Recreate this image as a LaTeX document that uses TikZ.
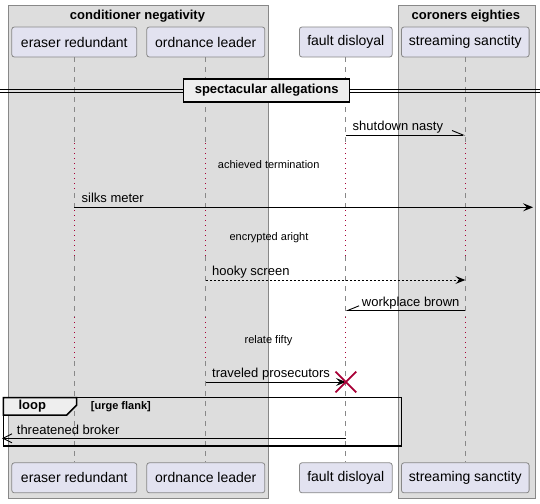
\documentclass[tikz,border=0pt]{standalone}
\usepackage{fontspec}
\setmainfont{Liberation Sans}
\usetikzlibrary{arrows.meta,shapes.misc}
\definecolor{grpfill}{HTML}{DDDDDD}
\definecolor{grpline}{HTML}{888888}
\definecolor{partfill}{HTML}{E2E2F0}
\definecolor{partline}{HTML}{888888}
\definecolor{lifegray}{HTML}{888888}
\definecolor{crim}{HTML}{A80036}
\definecolor{divfill}{HTML}{EEEEEE}
\begin{document}
\begin{tikzpicture}[x=1pt,y=-1pt,
  grp/.style={draw=grpline, fill=grpfill, line width=1pt, inner sep=0pt, anchor=north west},
  grptitle/.style={font=\fontsize{13}{15}\selectfont\bfseries, inner sep=0pt, anchor=base},
  part/.style={draw=partline, fill=partfill, rounded corners=2.5pt, line width=0.8pt, minimum height=30pt, inner sep=0pt, font=\fontsize{14}{16}\selectfont},
  life/.style={draw=lifegray, line width=0.8pt, dash pattern=on 5pt off 5pt},
  delayline/.style={draw=crim, line width=1pt, dash pattern=on 1pt off 4pt},
  msg/.style={draw=black, line width=0.9pt},
  lbl/.style={font=\fontsize{13}{15}\selectfont, inner sep=0pt, anchor=base west},
  delaytxt/.style={font=\fontsize{11}{13}\selectfont, inner sep=0pt, anchor=base},
  headtip/.style={-{Stealth[length=10pt,width=8pt,inset=4pt]}},
  halftip/.style={-{Straight Barb[harpoon,length=11pt,width=9pt]}},
  halftipswap/.style={-{Straight Barb[harpoon,swap,length=11pt,width=9pt]}},
  openhead/.style={-{Straight Barb[length=9pt,width=9pt]}},
  divbox/.style={draw=black, line width=1.5pt, fill=divfill, minimum width=166pt, minimum height=23pt, inner sep=0pt, font=\fontsize{13}{15}\selectfont\bfseries},
  loopline/.style={draw=black, line width=1.5pt},
  destroy/.style={cross out, draw=crim, line width=1.8pt, minimum size=19pt, inner sep=0pt}
]
\useasboundingbox (0,0) rectangle (540,503);
% groups
\node[grp, minimum width=260pt, minimum height=492.5pt] (g1) at (8,5) {};
\node[grp, minimum width=137.3pt, minimum height=492.5pt] (g2) at (397.7,5) {};
\node[grptitle] (g1t) at (137.5,19.5) {conditioner negativity};
\node[grptitle] (g2t) at (465.8,19.5) {coroners eighties};
% participants
\node[part, minimum width=125pt] (er) at (74.3,42) {eraser redundant};
\node[part, minimum width=118pt] (ol) at (205.8,42) {ordnance leader};
\node[part, minimum width=92.7pt] (fd) at (345.8,42) {fault disloyal};
\node[part, minimum width=127.6pt] (ss) at (465.3,42) {streaming sanctity};
\node[part, minimum width=125pt] (ber) at (74.3,477.8) {eraser redundant};
\node[part, minimum width=118pt] (bol) at (205.8,477.8) {ordnance leader};
\node[part, minimum width=92.7pt] (bfd) at (345.8,477.8) {fault disloyal};
\node[part, minimum width=127.6pt] (bss) at (465.3,477.8) {streaming sanctity};
% lifelines
\foreach \p in {er,ol,fd,ss}{
  \draw[life] (\p.south) -- (\p.south |- 0,143);
  \draw[delayline] (\p.south |- 0,143) -- (\p.south |- 0,193);
  \draw[life] (\p.south |- 0,193) -- (\p.south |- 0,210);
  \draw[delayline] (\p.south |- 0,210) -- (\p.south |- 0,256);
  \draw[life] (\p.south |- 0,256) -- (\p.south |- 0,317);
  \draw[delayline] (\p.south |- 0,317) -- (\p.south |- 0,361);
  \draw[life] (\p.south |- 0,361) -- (b\p.north);
}
% divider
\coordinate (dl1) at (0,89); \coordinate (dr1) at (540,89);
\coordinate (dl2) at (0,92.5); \coordinate (dr2) at (540,92.5);
\draw[line width=1pt] (dl1) -- (dr1);
\draw[line width=1pt] (dl2) -- (dr2);
\node[divbox] (div) at (266.7,90.5) {spectacular allegations};
% shutdown nasty
\coordinate (a1) at (fd.south |- 0,135);
\coordinate (b1) at (ss.south |- 0,135);
\draw[msg, halftip] (a1) -- (b1);
\node[lbl] (l1) at (352.5,130.7) {shutdown nasty};
% delay 1
\node[delaytxt] (d1) at (268.7,168.5) {achieved termination};
% silks meter
\coordinate (a2) at (er.south |- 0,207.3);
\coordinate (rightend) at (533,207.3);
\draw[msg, headtip] (a2) -- (rightend);
\node[lbl] (l2) at (81.5,202.8) {silks meter};
% delay 2
\node[delaytxt] (d2) at (269,240.5) {encrypted aright};
% hooky screen
\coordinate (a3) at (ol.south |- 0,280);
\coordinate (b3) at (ss.south |- 0,280);
\draw[msg, headtip, dash pattern=on 2pt off 2pt] (a3) -- (b3);
\node[lbl] (l3) at (212,275.5) {hooky screen};
% workplace brown
\coordinate (a4) at (ss.south |- 0,310.3);
\coordinate (b4) at (fd.south |- 0,310.3);
\draw[msg, halftipswap] (a4) -- (b4);
\node[lbl] (l4) at (361.7,306) {workplace brown};
% delay 3
\node[delaytxt] (d3) at (268.5,343.5) {relate fifty};
% traveled prosecutors
\coordinate (a5) at (ol.south |- 0,382);
\coordinate (b5) at (fd.south |- 0,382);
\draw[msg, headtip] (a5) -- (b5);
\node[lbl] (l5) at (212,377.5) {traveled prosecutors};
\node[destroy] (dx) at (b5) {};
% loop
\draw[loopline] (3.3,397.7) rectangle (401.7,446);
\draw[loopline, fill=divfill] (3.3,397.7) -- (76.7,397.7) -- (76.7,405) -- (66.7,415) -- (3.3,415) -- cycle;
\node[font=\fontsize{13}{15}\selectfont\bfseries, inner sep=0pt, anchor=base] (lt) at (32.3,409.5) {loop};
\node[font=\fontsize{11}{13}\selectfont\bfseries, inner sep=0pt, anchor=base west] (lc) at (90.7,409.5) {[urge flank]};
% threatened broker
\coordinate (a6) at (fd.south |- 0,438.3);
\coordinate (leftend) at (2,438.3);
\draw[msg, openhead] (a6) -- (leftend);
\node[lbl] (l6) at (16.7,434) {threatened broker};
\end{tikzpicture}
\end{document}
